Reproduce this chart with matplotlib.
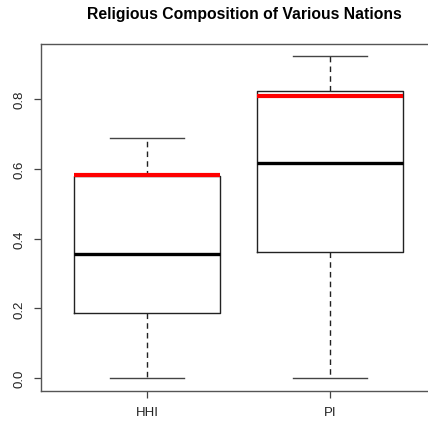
import matplotlib.pyplot as plt

plt.rcParams["font.family"] = ["Liberation Sans", "DejaVu Sans"]

groups = ["HHI", "PI"]
q_min = [0.0, 0.0]
q1 = [0.186, 0.362]
median = [0.355, 0.616]
q3 = [0.580, 0.822]
q_max = [0.687, 0.922]
ref_line = [0.583, 0.809]

stats = []
for i, g in enumerate(groups):
    stats.append({"label": g, "whislo": q_min[i], "q1": q1[i], "med": median[i],
                  "q3": q3[i], "whishi": q_max[i], "fliers": []})

fig = plt.figure(figsize=(4.28, 4.27), dpi=100)
# plot region runs past the right edge of the figure
ax = fig.add_axes([41 / 428, 1 - 392 / 427, 395 / 428, (392 - 44.5) / 427])

positions = [1, 2]
width = 0.8
ax.bxp(stats, positions=positions, widths=width, showfliers=False,
       boxprops=dict(color="#222222", linewidth=1.0),
       whiskerprops=dict(color="#222222", linewidth=1.0, linestyle=(0, (4, 3))),
       capprops=dict(color="#444444", linewidth=1.0),
       medianprops=dict(color="black", linewidth=2.4),
       capwidths=width / 2)

for p, v in zip(positions, ref_line):
    ax.hlines(v, p - width / 2, p + width / 2, color="red", linewidth=3.0, zorder=5)

ax.set_xlim(0.42, 2.58)
ax.set_ylim(-0.0369, 0.959)
ax.set_xticks(positions)
ax.set_xticklabels(groups)
ax.set_yticks([0.0, 0.2, 0.4, 0.6, 0.8])
ax.set_yticklabels(["0.0", "0.2", "0.4", "0.6", "0.8"], rotation=90, va="center")
ax.tick_params(direction="out", length=5, width=0.9, color="#444444", labelsize=9.5,
               labelcolor="#222222", pad=6)
for s in ax.spines.values():
    s.set_color("#555555")
    s.set_linewidth(1.0)

fig.suptitle("Religious Composition of Various Nations", x=244 / 428, y=1 - 7 / 427,
             fontsize=11.3, fontweight="bold")

fig.savefig("out.png", dpi=100)
